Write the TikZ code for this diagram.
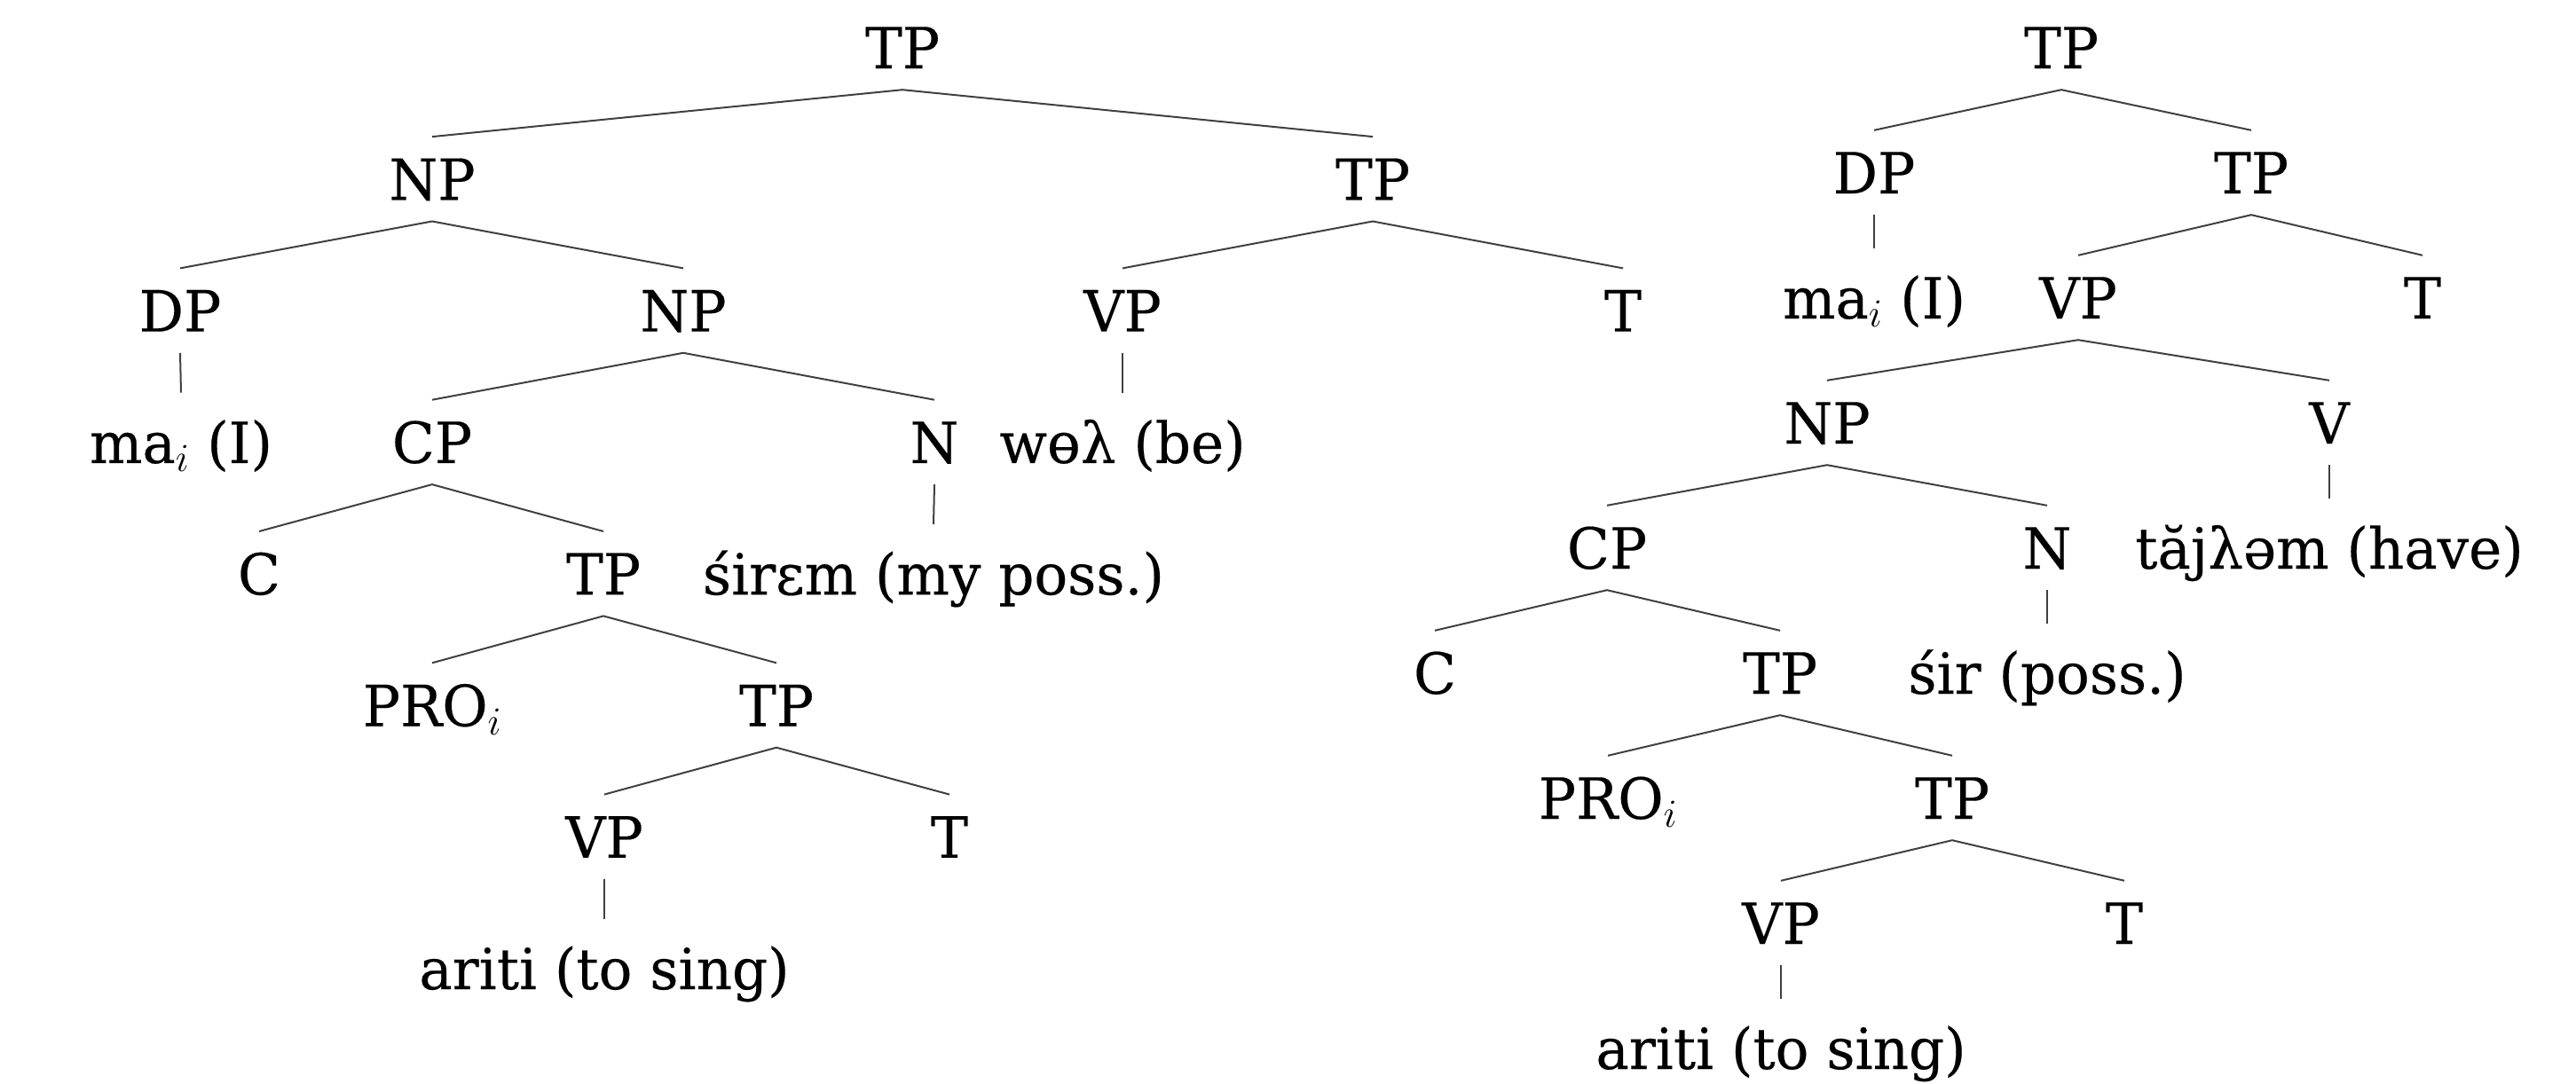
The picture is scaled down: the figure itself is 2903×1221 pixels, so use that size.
\RequirePackage{fix-cm}
\documentclass[tikz,border=0pt]{standalone}
\usepackage{fontspec}
\setmainfont[FakeStretch=0.98,FakeBold=0.3]{DejaVu Serif}
\tikzset{
  cat/.style={anchor=base, inner xsep=0pt, inner ysep=24pt,
    text height=47pt, text depth=0pt, font=\fontsize{64}{77}\selectfont},
  leaf/.style={cat, text height=55pt},
  branch/.style={draw=black!75, line width=2pt},
}
\begin{document}
\begin{tikzpicture}[x=1pt,y=-1pt]
\useasboundingbox (0,0) rectangle (2903,1221);

% ---- left tree ----
\node[cat]  (lTP)   at (1017,  77.0) {TP};
\node[cat]  (lNP)   at (487,  225.3) {NP};
\node[cat]  (lTPb)  at (1547, 225.3) {TP};
\node[cat]  (lDP)   at (203,  373.6) {DP};
\node[cat]  (lNPb)  at (770,  373.6) {NP};
\node[cat]  (lVP)   at (1265, 373.6) {VP};
\node[cat]  (lT)    at (1829, 373.6) {T};
\node[leaf] (lma)   at (204,  521.9) {ma$_i$ (I)};
\node[cat]  (lCP)   at (487,  521.9) {CP};
\node[cat]  (lN)    at (1053, 521.9) {N};
\node[leaf] (lwel)  at (1265, 521.9) {wɵλ (be)};
\node[cat]  (lC)    at (292,  670.2) {C};
\node[cat]  (lTPc)  at (680,  670.2) {TP};
\node[leaf] (lsir)  at (1052, 670.2) {śirɛm (my poss.)};
\node[cat]  (lPRO)  at (487,  818.5) {PRO$_i$};
\node[cat]  (lTPd)  at (875,  818.5) {TP};
\node[cat]  (lVPb)  at (681,  966.8) {VP};
\node[cat]  (lTb)   at (1070, 966.8) {T};
\node[leaf] (lari)  at (681, 1115.1) {ariti (to sing)};

\draw[branch] (lNP.north) -- (lTP.south) -- (lTPb.north);
\draw[branch] (lDP.north) -- (lNP.south) -- (lNPb.north);
\draw[branch] (lVP.north) -- (lTPb.south) -- (lT.north);
\draw[branch] (lDP.south) -- (lma.north);
\draw[branch] (lCP.north) -- (lNPb.south) -- (lN.north);
\draw[branch] (lVP.south) -- (lwel.north);
\draw[branch] (lC.north) -- (lCP.south) -- (lTPc.north);
\draw[branch] (lN.south) -- (lsir.north);
\draw[branch] (lPRO.north) -- (lTPc.south) -- (lTPd.north);
\draw[branch] (lVPb.north) -- (lTPd.south) -- (lTb.north);
\draw[branch] (lVPb.south) -- (lari.north);

% ---- right tree ----
\node[cat]  (rTP)   at (2323,   77) {TP};
\node[cat]  (rDP)   at (2112,  218) {DP};
\node[cat]  (rTPb)  at (2537,  218) {TP};
\node[leaf] (rma)   at (2112,  359) {ma$_i$ (I)};
\node[cat]  (rVP)   at (2342,  359) {VP};
\node[cat]  (rT)    at (2730,  359) {T};
\node[cat]  (rNP)   at (2059,  500) {NP};
\node[cat]  (rV)    at (2625,  500) {V};
\node[cat]  (rCP)   at (1811,  641) {CP};
\node[cat]  (rN)    at (2307,  641) {N};
\node[leaf] (rtaj)  at (2625,  641) {tăjλəm (have)};
\node[cat]  (rC)    at (1617,  782) {C};
\node[cat]  (rTPc)  at (2006,  782) {TP};
\node[leaf] (rsir)  at (2307,  782) {śir (poss.)};
\node[cat]  (rPRO)  at (1812,  923) {PRO$_i$};
\node[cat]  (rTPd)  at (2200,  923) {TP};
\node[cat]  (rVPb)  at (2007, 1064) {VP};
\node[cat]  (rTb)   at (2394, 1064) {T};
\node[leaf] (rari)  at (2007, 1205) {ariti (to sing)};

\draw[branch] (rDP.north) -- (rTP.south) -- (rTPb.north);
\draw[branch] (rDP.south) -- (rma.north);
\draw[branch] (rVP.north) -- (rTPb.south) -- (rT.north);
\draw[branch] (rNP.north) -- (rVP.south) -- (rV.north);
\draw[branch] (rCP.north) -- (rNP.south) -- (rN.north);
\draw[branch] (rV.south) -- (rtaj.north);
\draw[branch] (rC.north) -- (rCP.south) -- (rTPc.north);
\draw[branch] (rN.south) -- (rsir.north);
\draw[branch] (rPRO.north) -- (rTPc.south) -- (rTPd.north);
\draw[branch] (rVPb.north) -- (rTPd.south) -- (rTb.north);
\draw[branch] (rVPb.south) -- (rari.north);
\end{tikzpicture}
\end{document}
